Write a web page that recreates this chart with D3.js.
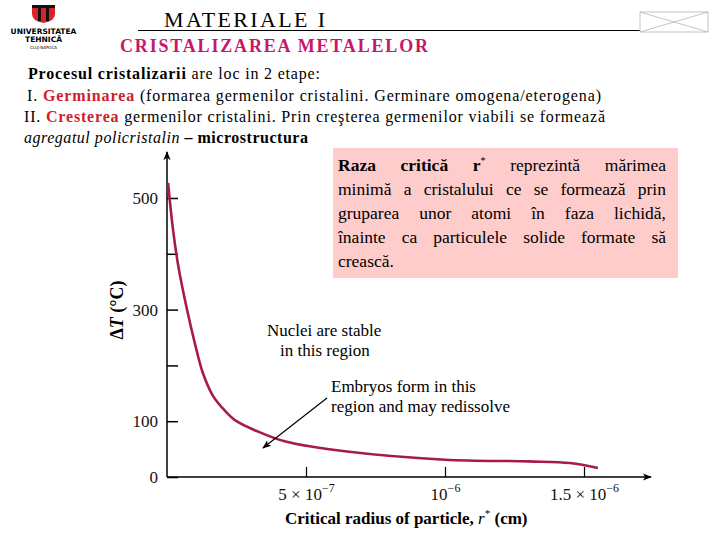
<!DOCTYPE html>
<html>
<head>
<meta charset="utf-8">
<script src="https://cdn.jsdelivr.net/npm/d3@7"></script>
<style>
  body { margin: 0; background: #fff; }
</style>
</head>
<body>
<script>
// date (raza in unitati de 1e-6 cm, subracire in °C)
var radius = [0.004, 0.02, 0.04, 0.072, 0.1, 0.13, 0.166, 0.21, 0.25, 0.32, 0.43, 0.64, 1.0, 1.3, 1.45, 1.55];
var deltaT = [527, 450, 380, 300, 240, 185, 145, 118, 100, 83, 63, 46, 31, 28, 25, 16];

var yTicks = [0, 100, 200, 300, 400, 500];
var yTickLabels = ["0", "100", "", "300", "", "500"];
var xTicks = [0.5, 1.0, 1.5];
var xTickBase = ["5 × 10", "10", "1.5 × 10"];
var xTickExp = ["−7", "−6", "−6"];

var boxLines = [
    "Raza critică r* reprezintă mărimea",
    "minimă a cristalului ce se formează prin",
    "gruparea unor atomi în faza lichidă,",
    "înainte ca particulele solide formate să",
    "crească."
];

var serif = "'Liberation Serif', 'Times New Roman', serif";
var width = 720, height = 540;

var svg = d3.select("body").append("svg")
    .attr("width", width)
    .attr("height", height)
    .style("font-family", serif);

// toate textele cu font serif
function txt(parent) {
    return parent.append("text").style("font-family", serif).attr("fill", "#000");
}

var defs = svg.append("defs");
defs.append("marker")
    .attr("id", "arrow")
    .attr("viewBox", "0 0 10 10")
    .attr("refX", 9).attr("refY", 5)
    .attr("markerWidth", 9).attr("markerHeight", 9)
    .attr("markerUnits", "userSpaceOnUse")
    .attr("orient", "auto")
    .append("path")
    .attr("d", "M0,1 L10,5 L0,9 L2.5,5 Z")
    .attr("fill", "#000");

/*
* Antet: sigla, titlu, subtitlu
*/
var logo = svg.append("g");
logo.append("path")
    .attr("d", "M32,5 L55,5 L55,14 Q55,21 43.5,23 Q32,21 32,14 Z")
    .attr("fill", "#d8232a");
logo.append("rect").attr("x", 32).attr("y", 5).attr("width", 23).attr("height", 3).attr("fill", "#111");
logo.append("rect").attr("x", 38).attr("y", 5).attr("width", 3).attr("height", 16).attr("fill", "#111");
logo.append("rect").attr("x", 46).attr("y", 5).attr("width", 3).attr("height", 16).attr("fill", "#111");
logo.append("text").attr("x", 43.5).attr("y", 34).attr("text-anchor", "middle")
    .style("font-family", "DejaVu Sans").style("font-weight", "bold").style("font-size", "7.5px")
    .text("UNIVERSITATEA");
logo.append("text").attr("x", 43.5).attr("y", 42).attr("text-anchor", "middle")
    .style("font-family", "DejaVu Sans").style("font-weight", "bold").style("font-size", "7.5px")
    .text("TEHNICĂ");
logo.append("text").attr("x", 43.5).attr("y", 49).attr("text-anchor", "middle")
    .style("font-family", "DejaVu Sans").style("font-size", "4px")
    .text("CLUJ-NAPOCA");

txt(svg)
    .attr("x", 164).attr("y", 27)
    .attr("textLength", 161).attr("lengthAdjust", "spacing")
    .style("font-size", "22px")
    .text("MATERIALE I");

svg.append("line")
    .attr("x1", 138).attr("x2", 640).attr("y1", 30.5).attr("y2", 30.5)
    .attr("stroke", "#000").attr("stroke-width", 1.2);

// cutia cu X din dreapta sus
var ph = svg.append("g").attr("stroke", "#b5b5b5").attr("stroke-width", 0.8).attr("fill", "none");
ph.append("rect").attr("x", 640).attr("y", 12).attr("width", 68).attr("height", 20);
ph.append("line").attr("x1", 640).attr("y1", 12).attr("x2", 708).attr("y2", 32);
ph.append("line").attr("x1", 640).attr("y1", 32).attr("x2", 708).attr("y2", 12);

txt(svg)
    .attr("x", 120).attr("y", 52)
    .attr("textLength", 308).attr("lengthAdjust", "spacing")
    .style("font-size", "18px").style("font-weight", "bold").attr("fill", "#c8176b")
    .text("CRISTALIZAREA METALELOR");

/*
* Textul introductiv (4 randuri)
*/
var intro = [
    {x: 28, y: 79, w: 292, parts: [["Procesul cristalizarii", "bold"], [" are loc in 2 etape:", ""]]},
    {x: 27, y: 101, w: 574, parts: [["I. ", ""], ["Germinarea", "red"], [" (formarea germenilor cristalini. Germinare omogena/eterogena)", ""]]},
    {x: 24, y: 122, w: 581, parts: [["II. ", ""], ["Cresterea", "red"], [" germenilor cristalini. Prin creşterea germenilor viabili se formează", ""]]},
    {x: 24, y: 143, w: 284, parts: [["agregatul policristalin", "italic"], [" – microstructura", "bold"]]}
];
intro.forEach(function(l) {
    var t = txt(svg)
        .attr("x", l.x).attr("y", l.y)
        .attr("textLength", l.w).attr("lengthAdjust", "spacing")
        .style("font-size", "16px");
    l.parts.forEach(function(p) {
        var s = t.append("tspan").style("font-family", serif).text(p[0]);
        if (p[1] === "bold") s.style("font-weight", "bold");
        if (p[1] === "red") s.style("font-weight", "bold").attr("fill", "#d0202a");
        if (p[1] === "italic") s.style("font-style", "italic");
    });
});

/*
* Caseta roz cu definitia razei critice (text aliniat stanga-dreapta)
*/
svg.append("rect")
    .attr("x", 333).attr("y", 148)
    .attr("width", 345).attr("height", 130)
    .attr("fill", "#ffcccc");

var bx0 = 338, bx1 = 666;
boxLines.forEach(function(line, i) {
    var words = line.split(" ");
    var g = svg.append("g");
    var widths = [];
    var items = words.map(function(w, j) {
        var t = txt(g)
            .attr("y", 171 + i * 24)
            .style("font-size", "17.5px");
        if (i === 0 && j < 3) t.style("font-weight", "bold");
        if (w === "r*") {
            t.append("tspan").text("r");
            t.append("tspan").attr("dy", "-7").style("font-size", "10px").style("font-weight", "normal").text("*");
        } else {
            t.text(w);
        }
        widths.push(t.node().getComputedTextLength());
        return t;
    });
    var total = d3.sum(widths);
    var gap = (i < boxLines.length - 1) ? (bx1 - bx0 - total) / (words.length - 1) : 4.5;
    var cx = bx0;
    items.forEach(function(t, j) {
        t.attr("x", cx);
        cx += widths[j] + gap;
    });
});

/*
* Graficul: scale, axe si curba
*/
var x = d3.scaleLinear().domain([0, 1.5]).range([167, 584]);
var y = d3.scaleLinear().domain([0, 500]).range([477, 198]);

var yAxis = svg.append("g")
    .attr("transform", "translate(167,0)")
    .call(d3.axisLeft(y).tickValues(yTicks).tickSize(-11).tickPadding(9)
        .tickFormat(function(d, i) { return yTickLabels[i]; }));
yAxis.select(".domain").remove();
yAxis.selectAll("line").attr("stroke", "#000").attr("stroke-width", 1.5);
yAxis.selectAll("text").style("font-family", serif).style("font-size", "17px").attr("fill", "#111");

var xAxis = svg.append("g")
    .attr("transform", "translate(0,477)")
    .call(d3.axisBottom(x).tickValues(xTicks).tickSize(-10).tickFormat(""));
xAxis.select(".domain").remove();
xAxis.selectAll("line").attr("stroke", "#000").attr("stroke-width", 1.2);
xAxis.selectAll(".tick").each(function(d, i) {
    var t = d3.select(this).append("text")
        .attr("y", 23).attr("fill", "#111").attr("text-anchor", "middle")
        .style("font-family", serif).style("font-size", "17px");
    t.append("tspan").text(xTickBase[i]);
    t.append("tspan").attr("dy", "-8").style("font-size", "12px").text(xTickExp[i]);
});

// liniile axelor cu sageti
svg.append("line")
    .attr("x1", 167).attr("y1", 477).attr("x2", 167).attr("y2", 152)
    .attr("stroke", "#000").attr("stroke-width", 1.5).attr("marker-end", "url(#arrow)");
svg.append("line")
    .attr("x1", 167).attr("y1", 477).attr("x2", 651).attr("y2", 477)
    .attr("stroke", "#000").attr("stroke-width", 1.5).attr("marker-end", "url(#arrow)");

var line = d3.line()
    .x(function(d, i) { return x(radius[i]); })
    .y(function(d) { return y(d); })
    .curve(d3.curveCatmullRom.alpha(0.5));

svg.append("path")
    .datum(deltaT)
    .attr("d", line)
    .attr("fill", "none")
    .attr("stroke", "#a8194f")
    .attr("stroke-width", 2.6);

// etichetele axelor
txt(svg)
    .attr("transform", "translate(123,310) rotate(-90)")
    .attr("text-anchor", "middle")
    .style("font-size", "18px").style("font-weight", "bold")
    .call(function(t) {
        t.append("tspan").text("Δ");
        t.append("tspan").style("font-style", "italic").text("T");
        t.append("tspan").text(" (°C)");
    });

txt(svg)
    .attr("x", 285).attr("y", 524)
    .style("font-size", "17px").style("font-weight", "bold")
    .call(function(t) {
        t.append("tspan").text("Critical radius of particle, ");
        t.append("tspan").style("font-style", "italic").style("font-weight", "normal").text("r");
        t.append("tspan").attr("dy", "-7").style("font-size", "11px").style("font-weight", "normal").text("*");
        t.append("tspan").attr("dy", "7").text(" (cm)");
    });

// adnotari
var notes = [
    ["Nuclei are stable", 267, 336],
    ["in this region", 280, 356],
    ["Embryos form in this", 331, 392],
    ["region and may redissolve", 331, 412]
];
notes.forEach(function(n) {
    txt(svg)
        .attr("x", n[1]).attr("y", n[2])
        .style("font-size", "17px")
        .text(n[0]);
});

svg.append("line")
    .attr("x1", 327).attr("y1", 398).attr("x2", 263).attr("y2", 448)
    .attr("stroke", "#000").attr("stroke-width", 1.2).attr("marker-end", "url(#arrow)");
</script>
</body>
</html>
